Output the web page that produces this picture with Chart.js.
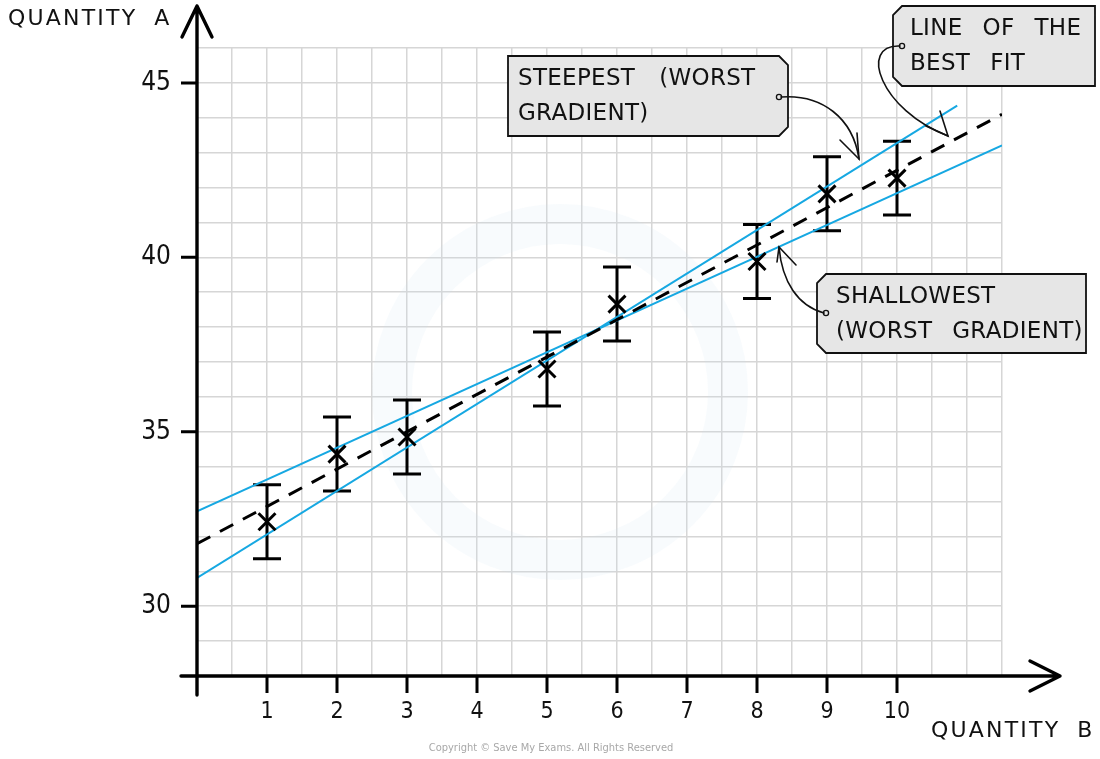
<!DOCTYPE html>
<html>
<head>
<meta charset="utf-8">
<script src="https://cdn.jsdelivr.net/npm/chart.js@4.4.1/dist/chart.umd.min.js"></script>
<style>
  html, body { margin: 0; padding: 0; background: #ffffff; }
  #wrap { width: 1100px; height: 759px; }
</style>
</head>
<body>
<div id="wrap"><canvas id="c" width="1100" height="759"></canvas></div>
<script>
// ---- data ----
const xValues = [1, 2, 3, 5, 6, 8, 9, 10];
const yValues = [32.42, 34.36, 34.85, 36.80, 38.66, 39.88, 41.82, 42.27];
const yErrors = [1.06, 1.06, 1.06, 1.06, 1.06, 1.06, 1.06, 1.06];

const bestFitX = [0, 11.5];
const bestFitY = [31.79, 44.10];
const steepestX = [0, 10.86];
const steepestY = [30.81, 44.35];
const shallowestX = [0, 11.5];
const shallowestY = [32.72, 43.21];

const xTickLabels = [1, 2, 3, 4, 5, 6, 7, 8, 9, 10];
const yTickLabels = [30, 35, 40, 45];

const xAxisTitle = 'QUANTITY B';
const yAxisTitle = 'QUANTITY A';
const notes = {
  steep: ['STEEPEST (WORST', 'GRADIENT)'],
  shallow: ['SHALLOWEST', '(WORST GRADIENT)'],
  best: ['LINE OF THE', 'BEST FIT']
};
const copyright = 'Copyright \u00A9 Save My Exams. All Rights Reserved';

// ---- helpers ----
const toPts = (xs, ys) => xs.map((x, i) => ({ x: x, y: ys[i] }));
const COND = "'DejaVu Sans Condensed', 'DejaVu Sans', sans-serif";
const BLUE = '#16a8e2';

function drawWords(ctx, text, x, y, gap, ls) {
  ctx.save();
  try { ctx.letterSpacing = (ls || 0) + 'px'; } catch (e) {}
  let cx = x;
  text.split(' ').forEach(w => {
    ctx.fillText(w, cx, y);
    cx += ctx.measureText(w).width + gap;
  });
  ctx.restore();
}

function tagPath(ctx, x1, y1, x2, y2, cutLeft, cutRight, c) {
  ctx.beginPath();
  if (cutLeft) { ctx.moveTo(x1 + c, y1); } else { ctx.moveTo(x1, y1); }
  if (cutRight) { ctx.lineTo(x2 - c, y1); ctx.lineTo(x2, y1 + c); ctx.lineTo(x2, y2 - c); ctx.lineTo(x2 - c, y2); }
  else { ctx.lineTo(x2, y1); ctx.lineTo(x2, y2); }
  if (cutLeft) { ctx.lineTo(x1 + c, y2); ctx.lineTo(x1, y2 - c); ctx.lineTo(x1, y1 + c); }
  else { ctx.lineTo(x1, y2); }
  ctx.closePath();
}

function drawTag(ctx, box, lines, cutLeft, cutRight, hole, gap) {
  ctx.save();
  tagPath(ctx, box[0], box[1], box[2], box[3], cutLeft, cutRight, 9);
  ctx.fillStyle = '#e6e6e6';
  ctx.fill();
  ctx.lineWidth = 1.8;
  ctx.strokeStyle = '#111';
  ctx.stroke();
  ctx.fillStyle = '#111';
  ctx.font = "23px 'DejaVu Sans', sans-serif";
  ctx.textBaseline = 'middle';
  ctx.textAlign = 'left';
  drawWords(ctx, lines[0], box[4], box[5], gap, 0.3);
  drawWords(ctx, lines[1], box[4], box[6], gap, 0.3);
  ctx.beginPath();
  ctx.arc(hole[0], hole[1], 2.6, 0, Math.PI * 2);
  ctx.lineWidth = 1.3;
  ctx.stroke();
  ctx.restore();
}

function drawCurveArrow(ctx, p0, c1, c2, p1, w1, w2) {
  ctx.save();
  ctx.strokeStyle = '#111';
  ctx.lineWidth = 1.6;
  ctx.lineCap = 'round';
  ctx.beginPath();
  ctx.moveTo(p0[0], p0[1]);
  ctx.bezierCurveTo(c1[0], c1[1], c2[0], c2[1], p1[0], p1[1]);
  ctx.stroke();
  ctx.beginPath();
  ctx.moveTo(w1[0], w1[1]);
  ctx.lineTo(p1[0], p1[1]);
  ctx.lineTo(w2[0], w2[1]);
  ctx.stroke();
  ctx.restore();
}

const decorPlugin = {
  id: 'decor',
  beforeDatasetsDraw(chart) {
    const ctx = chart.ctx;
    const xs = chart.scales.x, ys = chart.scales.y;
    // faint watermark ring
    ctx.save();
    ctx.strokeStyle = 'rgba(200,225,242,0.13)';
    ctx.lineWidth = 40;
    ctx.beginPath();
    ctx.arc(560, 392, 168, 0, Math.PI * 2);
    ctx.stroke();
    ctx.restore();
    // error bars
    ctx.save();
    ctx.strokeStyle = '#000';
    ctx.lineWidth = 3;
    ctx.lineCap = 'butt';
    xValues.forEach((xv, i) => {
      const px = xs.getPixelForValue(xv);
      const pt = ys.getPixelForValue(yValues[i] + yErrors[i]);
      const pb = ys.getPixelForValue(yValues[i] - yErrors[i]);
      ctx.beginPath();
      ctx.moveTo(px, pt); ctx.lineTo(px, pb);
      ctx.moveTo(px - 14, pt); ctx.lineTo(px + 14, pt);
      ctx.moveTo(px - 14, pb); ctx.lineTo(px + 14, pb);
      ctx.stroke();
    });
    ctx.restore();
  },
  afterDraw(chart) {
    const ctx = chart.ctx;
    const xs = chart.scales.x, ys = chart.scales.y;
    const x0 = xs.getPixelForValue(0);
    const y0 = ys.getPixelForValue(ys.min);
    ctx.save();
    ctx.strokeStyle = '#000';
    ctx.lineWidth = 3.4;
    ctx.lineCap = 'round';
    ctx.lineJoin = 'round';
    // y axis with arrow
    ctx.beginPath();
    ctx.moveTo(x0, y0 + 19);
    ctx.lineTo(x0, 6);
    ctx.moveTo(x0 - 15, 37);
    ctx.lineTo(x0, 6);
    ctx.lineTo(x0 + 15, 37);
    ctx.stroke();
    // x axis with arrow
    ctx.beginPath();
    ctx.moveTo(x0 - 16, y0);
    ctx.lineTo(1060, y0);
    ctx.moveTo(1030, y0 - 15);
    ctx.lineTo(1060, y0);
    ctx.lineTo(1030, y0 + 15);
    ctx.stroke();
    // tick marks
    ctx.lineWidth = 3;
    ctx.lineCap = 'butt';
    ctx.beginPath();
    xTickLabels.forEach(v => {
      const px = xs.getPixelForValue(v);
      ctx.moveTo(px, y0); ctx.lineTo(px, y0 + 17);
    });
    yTickLabels.forEach(v => {
      const py = ys.getPixelForValue(v);
      ctx.moveTo(x0 - 16, py); ctx.lineTo(x0, py);
    });
    ctx.stroke();
    ctx.restore();

    // axis titles
    ctx.save();
    ctx.fillStyle = '#111';
    ctx.font = "22px 'DejaVu Sans', sans-serif";
    ctx.textBaseline = 'middle';
    ctx.textAlign = 'left';
    drawWords(ctx, yAxisTitle, 8, 19, 17, 2.2);
    drawWords(ctx, xAxisTitle, 931, 731, 17, 2.2);
    // copyright
    ctx.fillStyle = '#a8a8a8';
    ctx.font = "11px " + COND;
    ctx.textAlign = 'center';
    ctx.fillText(copyright, 551, 748);
    ctx.restore();

    // annotation tags and arrows
    drawTag(ctx, [508, 56, 788, 136, 518, 79, 114], notes.steep, false, true, [779, 97], 24);
    drawCurveArrow(ctx, [781, 97], [822, 94], [853, 118], [859, 159], [840, 140], [857, 133]);

    drawTag(ctx, [817, 274, 1086, 353, 836, 297, 332], notes.shallow, true, false, [826, 313], 20);
    drawCurveArrow(ctx, [824, 313], [798, 306], [782, 282], [779, 247], [777, 262], [796, 265]);

    drawTag(ctx, [893, 6, 1095, 86, 910, 29, 64], notes.best, true, false, [902, 46], 20);
    drawCurveArrow(ctx, [900, 46], [858, 44], [880, 110], [948, 136], [926, 126], [940, 111]);
  }
};

const ctx = document.getElementById('c').getContext('2d');
new Chart(ctx, {
  type: 'scatter',
  data: {
    datasets: [
      {
        label: 'data',
        data: toPts(xValues, yValues),
        pointStyle: 'crossRot',
        pointRadius: 12,
        pointHoverRadius: 12,
        borderWidth: 3,
        borderColor: '#000',
        backgroundColor: '#000',
        showLine: false,
        order: 0
      },
      {
        label: 'best fit',
        data: toPts(bestFitX, bestFitY),
        showLine: true,
        borderColor: '#000',
        borderWidth: 3,
        borderDash: [15, 11],
        pointRadius: 0,
        fill: false,
        order: 1
      },
      {
        label: 'steepest',
        data: toPts(steepestX, steepestY),
        showLine: true,
        borderColor: BLUE,
        borderWidth: 2,
        pointRadius: 0,
        fill: false,
        order: 2
      },
      {
        label: 'shallowest',
        data: toPts(shallowestX, shallowestY),
        showLine: true,
        borderColor: BLUE,
        borderWidth: 2,
        pointRadius: 0,
        fill: false,
        order: 3
      }
    ]
  },
  options: {
    responsive: false,
    animation: false,
    events: [],
    layout: { padding: { left: 0, right: 98, top: 48, bottom: 0 } },
    plugins: { legend: { display: false }, tooltip: { enabled: false } },
    scales: {
      x: {
        type: 'linear',
        min: 0,
        max: 11.5,
        afterFit: (s) => { s.height = 83; },
        border: { display: false },
        grid: { color: '#d6d6d6', lineWidth: 1.5, drawTicks: false },
        ticks: {
          stepSize: 0.5,
          autoSkip: false,
          maxRotation: 0,
          padding: 22,
          color: '#111',
          font: { family: COND, size: 23 },
          callback: (v) => (xTickLabels.includes(v) ? String(v) : '')
        }
      },
      y: {
        type: 'linear',
        min: 28,
        max: 46,
        afterFit: (s) => { s.width = 197; },
        border: { display: false },
        grid: { color: '#d6d6d6', lineWidth: 1.5, drawTicks: false },
        ticks: {
          stepSize: 1,
          autoSkip: false,
          padding: 26,
          color: '#111',
          font: { family: COND, size: 26 },
          callback: (v) => (yTickLabels.includes(v) ? String(v) : '')
        }
      }
    }
  },
  plugins: [decorPlugin]
});
</script>
</body>
</html>
